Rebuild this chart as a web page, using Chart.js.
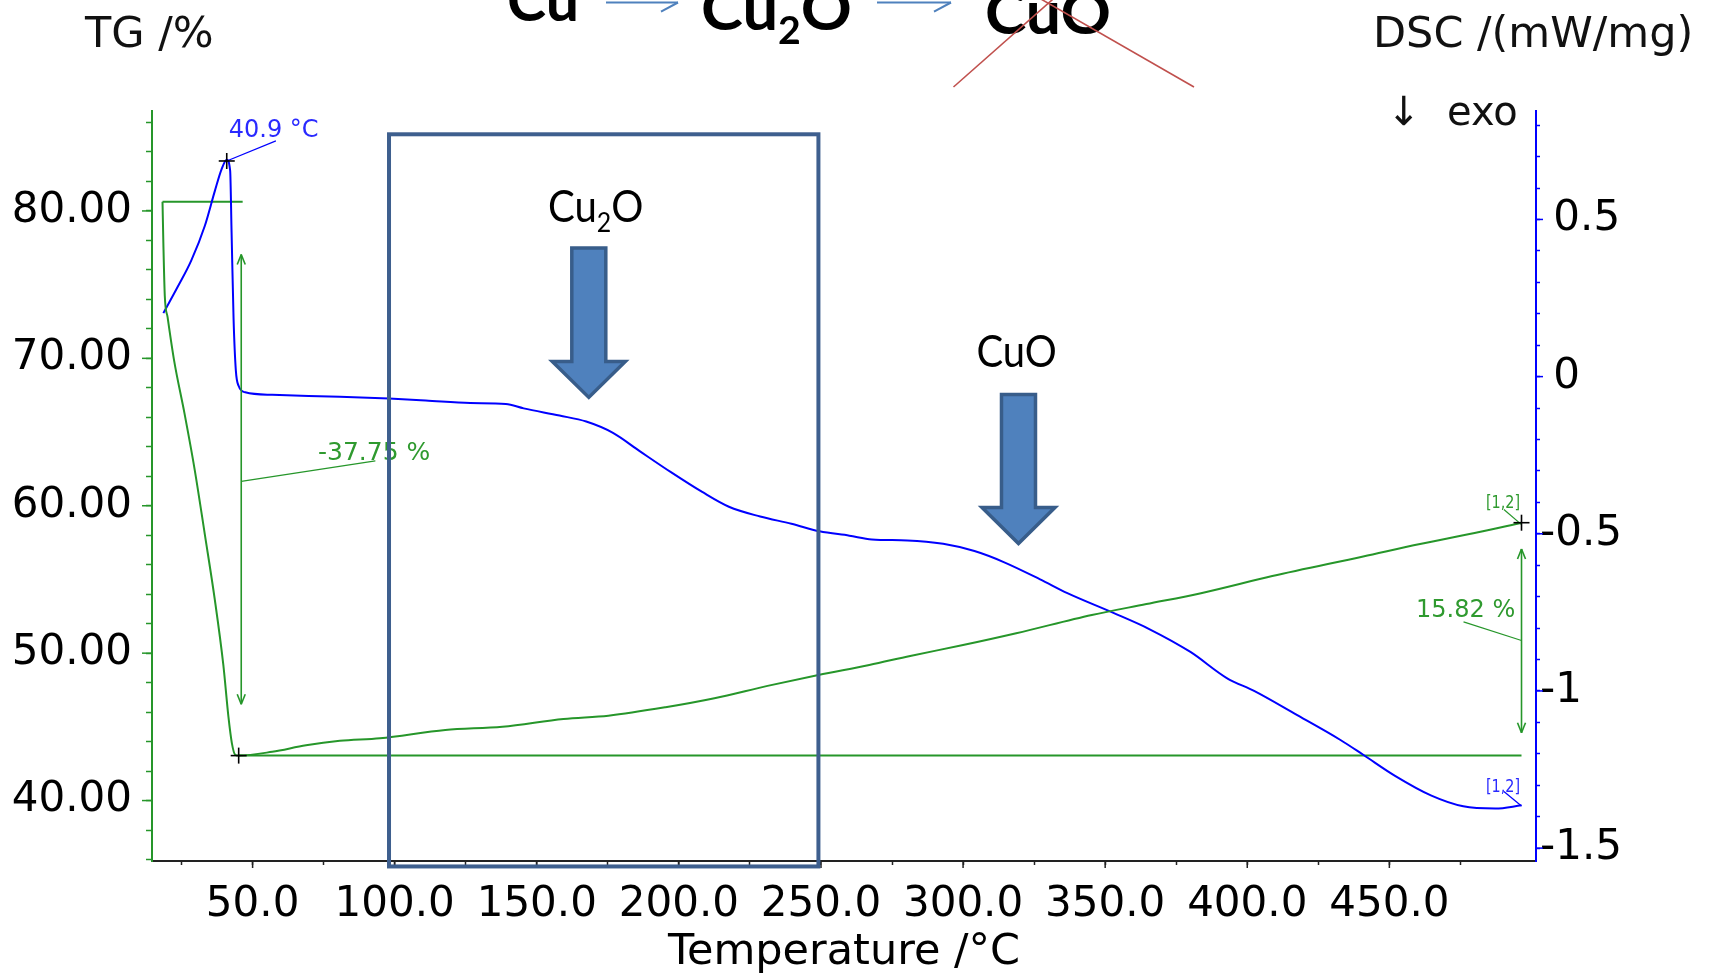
<!DOCTYPE html>
<html>
<head>
<meta charset="utf-8">
<title>TG / DSC</title>
<script src="https://cdn.jsdelivr.net/npm/chart.js"></script>
<style>
  html, body { margin: 0; padding: 0; background: #fff; }
  canvas { display: block; }
</style>
</head>
<body>
<canvas id="tgChart" width="1713" height="975"></canvas>
<script>
// ---------------- DATA ----------------

// TG curve: temperature (°C) and mass (%)
const tgTemp = [18.3, 18.6, 19.1, 20.1, 22.4, 26.0, 29.6, 33.2, 36.7, 39.7, 41.5, 42.7, 43.9, 45.1,
                56.9, 68.8, 80.7, 94.8, 117.8, 137.9, 159.4, 175.2, 195.3, 212.5, 231.2, 249.1,
                267.0, 281.4, 300.0, 318.7, 345.3, 364.5, 383.7, 408.8, 440.8, 460.8, 480.0, 496.5];
const tgValue = [80.62, 77.79, 74.25, 72.78, 69.83, 66.30, 62.47, 58.04, 53.63, 49.20, 45.67, 43.90, 43.10, 43.05,
                 43.31, 43.75, 44.05, 44.23, 44.79, 45.01, 45.54, 45.76, 46.33, 46.94, 47.78, 48.52,
                 49.20, 49.81, 50.55, 51.35, 52.59, 53.33, 54.07, 55.23, 56.56, 57.41, 58.15, 58.85];

// DSC curve: temperature (°C) and heat flow (mW/mg)
const dscTemp = [18.6, 23.6, 28.4, 33.2, 36.7, 39.1, 40.9, 42.1, 42.6, 43.3, 44.1, 45.1, 47.4, 56.9,
                 80.7, 98.0, 110.9, 126.6, 139.1, 145.4, 158.0, 167.4, 176.8, 186.2, 197.2, 208.2,
                 217.6, 228.6, 239.6, 249.5, 260.0, 267.9, 280.4, 293.0, 304.0, 314.3, 327.1, 336.7,
                 352.7, 365.5, 380.0, 392.8, 402.4, 416.8, 432.8, 440.8, 452.0, 464.8, 476.0, 487.3, 496.5];
const dscValue = [0.202, 0.285, 0.369, 0.48, 0.59, 0.66, 0.69, 0.655, 0.46, 0.185, 0.02, -0.03, -0.05, -0.058,
                  -0.064, -0.07, -0.076, -0.084, -0.087, -0.101, -0.124, -0.143, -0.179, -0.237, -0.304, -0.367,
                  -0.414, -0.445, -0.468, -0.492, -0.506, -0.518, -0.521, -0.532, -0.555, -0.59, -0.645, -0.689,
                  -0.751, -0.803, -0.876, -0.959, -1.0, -1.073, -1.156, -1.203, -1.27, -1.333, -1.367, -1.374, -1.364];

// TG evaluation step lines
const stepStartTemp = [18.3, 46.5];
const stepStartValue = [80.62, 80.62];
const stepEndTemp = [45.1, 496.5];
const stepEndValue = [43.05, 43.05];

// axis tick labels (major) and axis ranges
const xTicks = [50, 100, 150, 200, 250, 300, 350, 400, 450];
const tgTicks = [40, 50, 60, 70, 80];
const dscTicks = [-1.5, -1, -0.5, 0, 0.5];
const xRange = [14.6, 501.6];
const tgRange = [35.9, 86.78];
const dscRange = [-1.541, 0.845];

// annotation texts
const massSteps = ['-37.75 %', '15.82 %'];
const peakText = '40.9 °C';

const GREEN = '#26962a';
const BLUE = '#0000ff';
const FONT = 'DejaVu Sans';
const BOXBLUE = '#3e5f8e';

// ---------------- HELPERS ----------------

function points(xs, ys) {
    return xs.map((x, i) => ({ x: x, y: ys[i] }));
}

function minorTicks(min, max, step) {
    const out = [];
    for (let v = Math.ceil(min / step) * step; v <= max + 1e-9; v += step) {
        out.push({ value: Math.round(v * 1000) / 1000 });
    }
    return out;
}

// draws text pieces (with subscripts) squeezed into [left, right]
function fitText(c, parts, left, right, baseline, size, weight, family) {
    const subSize = size * 0.62;
    const subDrop = size * 0.24;
    let w = 0;
    parts.forEach(p => {
        c.font = `${weight} ${p[1] ? subSize : size}px ${family}`;
        w += c.measureText(p[0]).width;
    });
    c.save();
    c.translate(left, baseline);
    c.scale((right - left) / w, 1);
    let x = 0;
    parts.forEach(p => {
        c.font = `${weight} ${p[1] ? subSize : size}px ${family}`;
        c.fillText(p[0], x, p[1] ? subDrop : 0);
        x += c.measureText(p[0]).width;
    });
    c.restore();
}

function line(c, x1, y1, x2, y2) {
    c.beginPath();
    c.moveTo(x1, y1);
    c.lineTo(x2, y2);
    c.stroke();
}

function cross(c, x, y) {
    c.strokeStyle = '#000';
    c.lineWidth = 1.6;
    line(c, x - 8, y, x + 8, y);
    line(c, x, y - 8, x, y + 8);
}

function doubleArrow(c, x, y1, y2) {
    line(c, x, y1, x, y2);
    line(c, x - 4, y1 + 10, x, y1);
    line(c, x + 4, y1 + 10, x, y1);
    line(c, x - 4, y2 - 10, x, y2);
    line(c, x + 4, y2 - 10, x, y2);
}

function bigArrow(c, cx, top, tip) {
    const sw = 17, hw = 36.5, hh = 36;
    c.beginPath();
    c.moveTo(cx - sw, top);
    c.lineTo(cx + sw, top);
    c.lineTo(cx + sw, tip - hh);
    c.lineTo(cx + hw, tip - hh);
    c.lineTo(cx, tip);
    c.lineTo(cx - hw, tip - hh);
    c.lineTo(cx - sw, tip - hh);
    c.closePath();
    c.fillStyle = '#4f81bd';
    c.fill();
    c.strokeStyle = '#385d8a';
    c.lineWidth = 3.5;
    c.lineJoin = 'miter';
    c.stroke();
}

/* ---------------- ANNOTATIONS ---------------- */

const annotate = {
    id: 'annotate',
    afterDraw(chart) {
        const c = chart.ctx;
        const area = chart.chartArea;
        const X = t => chart.scales.x.getPixelForValue(t);
        const T = v => chart.scales.yTG.getPixelForValue(v);
        const D = v => chart.scales.yDSC.getPixelForValue(v);
        c.save();
        c.textAlign = 'left';
        c.textBaseline = 'alphabetic';

        // longer marks for the labelled ticks
        c.lineWidth = 1.5;
        c.strokeStyle = GREEN;
        tgTicks.forEach(v => line(c, area.left - 10, T(v), area.left, T(v)));
        c.strokeStyle = BLUE;
        dscTicks.forEach(v => line(c, area.right, D(v), area.right + 7, D(v)));
        c.strokeStyle = '#222';
        xTicks.forEach(v => line(c, X(v), area.bottom, X(v), area.bottom + 7));

        // axis titles
        c.fillStyle = '#111';
        c.font = `43px ${FONT}`;
        c.fillText('TG /%', 85, 47);
        c.fillText('DSC /(mW/mg)', 1373, 47);
        c.font = `40px ${FONT}`;
        c.fillText('↓', 1387, 125);
        c.fillText('exo', 1447, 125);

        // reaction title at the top (partly cut off)
        c.fillStyle = '#000';
        fitText(c, [['Cu', 0]], 507, 579, 21, 60, 'bold', 'Lato');
        fitText(c, [['Cu', 0], ['2', 1], ['O', 0]], 701, 852, 29.5, 60, 'bold', 'Lato');
        fitText(c, [['CuO', 0]], 985, 1111, 33.5, 60, 'bold', 'Lato');
        c.strokeStyle = '#4f81bd';
        c.lineWidth = 2;
        line(c, 606, 2.5, 678, 2.5);
        line(c, 678, 2.5, 661, 11.7);
        line(c, 877, 2.5, 951, 2.5);
        line(c, 951, 2.5, 934, 11.7);
        c.strokeStyle = '#c0504d';
        c.lineWidth = 1.6;
        line(c, 953.5, 87, 1063.3, -10);
        line(c, 1194, 87, 1025.2, -10);

        // TG evaluation marks
        c.strokeStyle = GREEN;
        c.lineWidth = 1.6;
        doubleArrow(c, X(46.0), T(77.05), T(46.53));
        doubleArrow(c, X(496.5), T(57.07), T(44.6));
        c.lineWidth = 1.2;
        line(c, X(46.0), T(61.65), X(93.2), T(63.05));
        line(c, X(476.1), T(52.12), X(496.5), T(50.86));
        line(c, X(490.3), T(59.75), X(496.5), T(58.72));
        c.fillStyle = '#2f9a2f';
        c.font = `25px ${FONT}`;
        c.fillText(massSteps[0], X(73.0), T(63.11));
        c.font = `24px ${FONT}`;
        c.fillText(massSteps[1], X(459.4), T(52.44));
        fitText(c, [['[1,2]', 0]], X(484.0), X(496.0), T(59.85), 18, 'normal', FONT);

        // DSC peak mark
        c.strokeStyle = BLUE;
        c.lineWidth = 1.2;
        line(c, X(40.9), D(0.686), X(58.2), D(0.75));
        line(c, X(490.3), D(-1.32), X(496.5), D(-1.366));
        c.fillStyle = '#2a2aff';
        c.font = `24px ${FONT}`;
        c.fillText(peakText, X(41.6), D(0.7625));
        fitText(c, [['[1,2]', 0]], X(484.0), X(496.0), D(-1.32), 18, 'normal', FONT);

        cross(c, X(40.9), D(0.686));
        cross(c, X(45.1), T(43.05));
        cross(c, X(496.5), T(58.85));

        // highlighted temperature window
        c.strokeStyle = BOXBLUE;
        c.lineWidth = 4;
        c.strokeRect(X(98.0), T(85.2), X(249.1) - X(98.0), T(35.53) - T(85.2));

        // oxide arrows and labels
        bigArrow(c, X(168.3), T(77.49), T(67.35));
        bigArrow(c, X(319.5), T(67.55), T(57.44));
        c.fillStyle = '#000';
        fitText(c, [['Cu', 0], ['2', 1], ['O', 0]], X(153.9), X(187.5), T(79.27), 44, 'normal', 'Lato');
        fitText(c, [['CuO', 0]], X(304.7), X(332.97), T(69.44), 44, 'normal', 'Lato');

        c.restore();
    }
};

/* ---------------- CHART ---------------- */

const chart = new Chart(document.getElementById('tgChart'), {
    type: 'line',
    data: {
        datasets: [
            {
                label: 'TG',
                data: points(tgTemp, tgValue),
                yAxisID: 'yTG',
                borderColor: GREEN,
                borderWidth: 2,
                pointRadius: 0,
                cubicInterpolationMode: 'monotone'
            },
            {
                label: 'DSC',
                data: points(dscTemp, dscValue),
                yAxisID: 'yDSC',
                borderColor: BLUE,
                borderWidth: 2,
                pointRadius: 0,
                cubicInterpolationMode: 'monotone'
            },
            {
                label: 'TG start',
                data: points(stepStartTemp, stepStartValue),
                yAxisID: 'yTG',
                borderColor: GREEN,
                borderWidth: 2,
                pointRadius: 0
            },
            {
                label: 'TG end',
                data: points(stepEndTemp, stepEndValue),
                yAxisID: 'yTG',
                borderColor: GREEN,
                borderWidth: 2,
                pointRadius: 0
            }
        ]
    },
    options: {
        responsive: false,
        animation: false,
        events: [],
        layout: { padding: { top: 111, left: 0, right: 0, bottom: 0 } },
        plugins: {
            legend: { display: false },
            tooltip: { enabled: false }
        },
        scales: {
            x: {
                type: 'linear',
                position: 'bottom',
                min: xRange[0],
                max: xRange[1],
                afterBuildTicks: s => { s.ticks = minorTicks(25, 475, 25); },
                afterFit: s => { s.height = 114; },
                ticks: {
                    autoSkip: false,
                    maxRotation: 0,
                    minRotation: 0,
                    padding: 15,
                    color: '#000',
                    font: { family: FONT, size: 42 },
                    callback: v => xTicks.includes(v) ? v.toFixed(1) : ''
                },
                grid: { drawOnChartArea: false, tickLength: 4, tickColor: '#222', tickWidth: 1.5 },
                border: { color: '#222', width: 2 },
                title: {
                    display: true,
                    text: 'Temperature /°C',
                    color: '#000',
                    font: { family: FONT, size: 43 },
                    padding: { top: 0, bottom: -4 }
                }
            },
            yTG: {
                type: 'linear',
                position: 'left',
                min: tgRange[0],
                max: tgRange[1],
                afterBuildTicks: s => { s.ticks = minorTicks(tgRange[0], tgRange[1], 2); },
                afterFit: s => { s.width = 152; },
                ticks: {
                    autoSkip: false,
                    padding: 14,
                    color: '#000',
                    font: { family: FONT, size: 42 },
                    callback: v => tgTicks.includes(v) ? v.toFixed(2) : ''
                },
                grid: { drawOnChartArea: false, tickLength: 6, tickColor: GREEN, tickWidth: 1.5 },
                border: { color: GREEN, width: 2 }
            },
            yDSC: {
                type: 'linear',
                position: 'right',
                min: dscRange[0],
                max: dscRange[1],
                afterBuildTicks: s => { s.ticks = minorTicks(dscRange[0], dscRange[1], 0.1); },
                afterFit: s => { s.width = 177; },
                ticks: {
                    autoSkip: false,
                    padding: 0,
                    color: '#000',
                    font: { family: FONT, size: 42 },
                    // positive labels keep a space where the minus sign would be
                    callback: v => dscTicks.includes(v) ? (v < 0 ? String(v) : ' ' + String(v)) : ''
                },
                grid: { drawOnChartArea: false, tickLength: 4, tickColor: BLUE, tickWidth: 1.5 },
                border: { color: BLUE, width: 2 }
            }
        }
    },
    plugins: [annotate]
});
</script>
</body>
</html>
